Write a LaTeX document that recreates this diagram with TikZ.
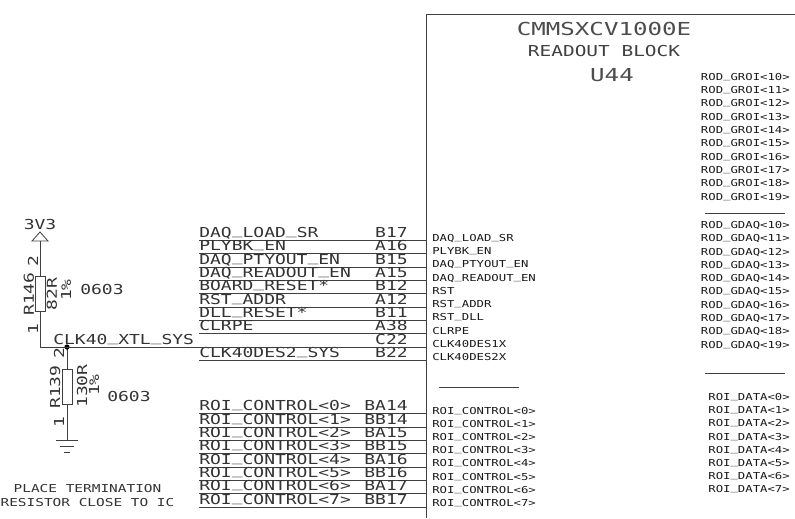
\documentclass[tikz,border=0pt]{standalone}
\usepackage{fontspec}
\newfontfamily\bigf[FakeStretch=1.31]{DejaVu Sans Mono}
\newfontfamily\smf[FakeStretch=1.28]{DejaVu Sans Mono}
\newfontfamily\midf[FakeStretch=1.32]{DejaVu Sans Mono}
\newfontfamily\ttlf[FakeStretch=1.35]{DejaVu Sans Mono}
\newfontfamily\subf[FakeStretch=1.29]{DejaVu Sans Mono}
\let\origus\_
\renewcommand\_{\raisebox{.2em}{\origus}}
\tikzset{
  wire/.style={draw=black!75,line width=0.6pt},
  biglbl/.style={inner sep=0pt,font=\bigf\fontsize{10.3}{12}\selectfont,text=black!80},
  smlbl/.style={inner sep=0pt,font=\smf\fontsize{7.2}{9}\selectfont,text=black!90},
  midlbl/.style={inner sep=0pt,font=\midf\fontsize{8.2}{10}\selectfont,text=black!80},
  ttl/.style={inner sep=0pt,font=\ttlf\fontsize{13.4}{15}\selectfont,text=black!70},
  subttl/.style={inner sep=0pt,font=\subf\fontsize{11.3}{13}\selectfont,text=black!75},
  res/.style={draw=black!75,line width=0.6pt,minimum width=7.5pt,minimum height=26.25pt,inner sep=0pt},
}
\begin{document}
\begin{tikzpicture}[x=0.75pt,y=-0.75pt]
\useasboundingbox (0,0) rectangle (795,518);
% block outline
\coordinate (bTR) at (795,14); \coordinate (bTL) at (426,14); \coordinate (bBL) at (426,518);
\draw[wire] (bTR) -- (bTL) -- (bBL);
\node[ttl] at (604,29) {CMMSXCV1000E};
\node[subttl] at (604,51) {READOUT BLOCK};
\node[ttl] at (612,75) {U44};
% resistors, power, ground
\node[biglbl] (vcc) at (40,224) {3V3};
\coordinate (vT) at (40,232); \coordinate (vL) at (32,241); \coordinate (vR) at (48,241); \coordinate (vB) at (40,241);
\draw[wire] (vT) -- (vR) -- (vL) -- cycle;
\node[res] (r146) at (40,293.5) {};
\node[res] (r139) at (67,386.5) {};
\coordinate (corner) at (40,347);
\coordinate (jn) at (67,347);
\coordinate (gnd) at (67,440);
\draw[wire] (vB) -- (r146.north);
\draw[wire] (r146.south) -- (corner);
\draw[wire] (jn) -- (r139.north);
\draw[wire] (r139.south) -- (gnd);
\fill[black] (jn) circle (2.6);
\coordinate (g1l) at (56,440); \coordinate (g1r) at (78,440);
\coordinate (g2l) at (60,446); \coordinate (g2r) at (74,446);
\coordinate (g3l) at (64,452); \coordinate (g3r) at (70,452);
\draw[wire] (g1l) -- (g1r); \draw[wire] (g2l) -- (g2r); \draw[wire] (g3l) -- (g3r);
\node[biglbl,rotate=90] (a) at (33,261) {2};
\node[biglbl,rotate=90] (b) at (33,329) {1};
\node[biglbl,rotate=90] (c) at (29,294) {R146};
\node[biglbl,rotate=90] (d) at (52,294) {82R};
\node[biglbl,rotate=90] (e) at (66,290) {1\%};
\node[biglbl,anchor=west] (f) at (80,289) {0603};
\node[biglbl,rotate=90] (g) at (59,353) {2};
\node[biglbl,rotate=90] (h) at (59,422) {1};
\node[biglbl,rotate=90] (i) at (55,387) {R139};
\node[biglbl,rotate=90] (j) at (82,386) {130R};
\node[biglbl,rotate=90] (k) at (94,385) {1\%};
\node[biglbl,anchor=west] (l) at (107,396) {0603};
\node[midlbl] (n1) at (87.5,489) {PLACE TERMINATION};
\node[midlbl] (n2) at (87.5,503) {RESISTOR CLOSE TO IC};
% left wires
\foreach \y/\sig/\pin/\inn in {
 240/DAQ\_LOAD\_SR/B17/238,
 253/PLYBK\_EN/A16/251,
 267/DAQ\_PTYOUT\_EN/B15/264,
 280/DAQ\_READOUT\_EN/A15/278,
 293/BOARD\_RESET*/B12/291,
 307/RST\_ADDR/A12/304,
 320/DLL\_RESET*/B11/317,
 333/CLRPE/A38/331,
 360/CLK40DES2\_SYS/B22/357}{
  \coordinate (s) at (199,\y); \coordinate (t) at (426,\y);
  \draw[wire] (s) -- (t);
  \node[biglbl,anchor=base west] at (199,\y-3) {\sig};
  \node[biglbl,anchor=base east] at (408,\y-3) {\pin};
}
\foreach \t/\y in {DAQ\_LOAD\_SR/238,PLYBK\_EN/251,DAQ\_PTYOUT\_EN/264,DAQ\_READOUT\_EN/278,RST/291,RST\_ADDR/304,RST\_DLL/317,CLRPE/331,CLK40DES1X/344,CLK40DES2X/357}
  \node[smlbl,anchor=base west] at (432,\y+3.5) {\t};
% xtl net
\coordinate (xe) at (426,347);
\draw[wire] (corner) -- (xe);
\node[biglbl,anchor=base west] at (53,344) {CLK40\_XTL\_SYS};
\node[biglbl,anchor=base east] at (408,344) {C22};
% ROI
\foreach \i/\y/\pin/\iy in {0/413/BA14/411,1/427/BB14/424,2/440/BA15/437,3/453/BB15/450,4/467/BA16/463,5/480/BB16/477,6/493/BA17/490,7/507/BB17/503}{
  \coordinate (s) at (199,\y); \coordinate (t) at (426,\y);
  \draw[wire] (s) -- (t);
  \node[biglbl,anchor=base west] at (199,\y-3) {ROI\_CONTROL<\i>};
  \node[biglbl,anchor=base east] at (408,\y-3) {\pin};
  \node[smlbl,anchor=base west] at (432,\iy+3.5) {ROI\_CONTROL<\i>};
}
\coordinate (b1) at (439,387); \coordinate (b2) at (519,387); \draw[wire] (b1) -- (b2);
\coordinate (b3) at (705,213); \coordinate (b4) at (785,213); \draw[wire] (b3) -- (b4);
\coordinate (b5) at (705,373); \coordinate (b6) at (785,373); \draw[wire] (b5) -- (b6);
% right labels
\foreach \i/\y in {10/77,11/90,12/103,13/117,14/130,15/143,16/157,17/170,18/183,19/197}
  \node[smlbl,anchor=base east] at (790,\y+3.5) {ROD\_GROI<\i>};
\foreach \i/\y in {10/225,11/238,12/252,13/265,14/278,15/291,16/305,17/318,18/331,19/345}
  \node[smlbl,anchor=base east] at (790,\y+3.5) {ROD\_GDAQ<\i>};
\foreach \i/\y in {0/397,1/410,2/423,3/437,4/450,5/463,6/476,7/489}
  \node[smlbl,anchor=base east] at (790,\y+3.5) {ROI\_DATA<\i>};
\end{tikzpicture}
\end{document}
